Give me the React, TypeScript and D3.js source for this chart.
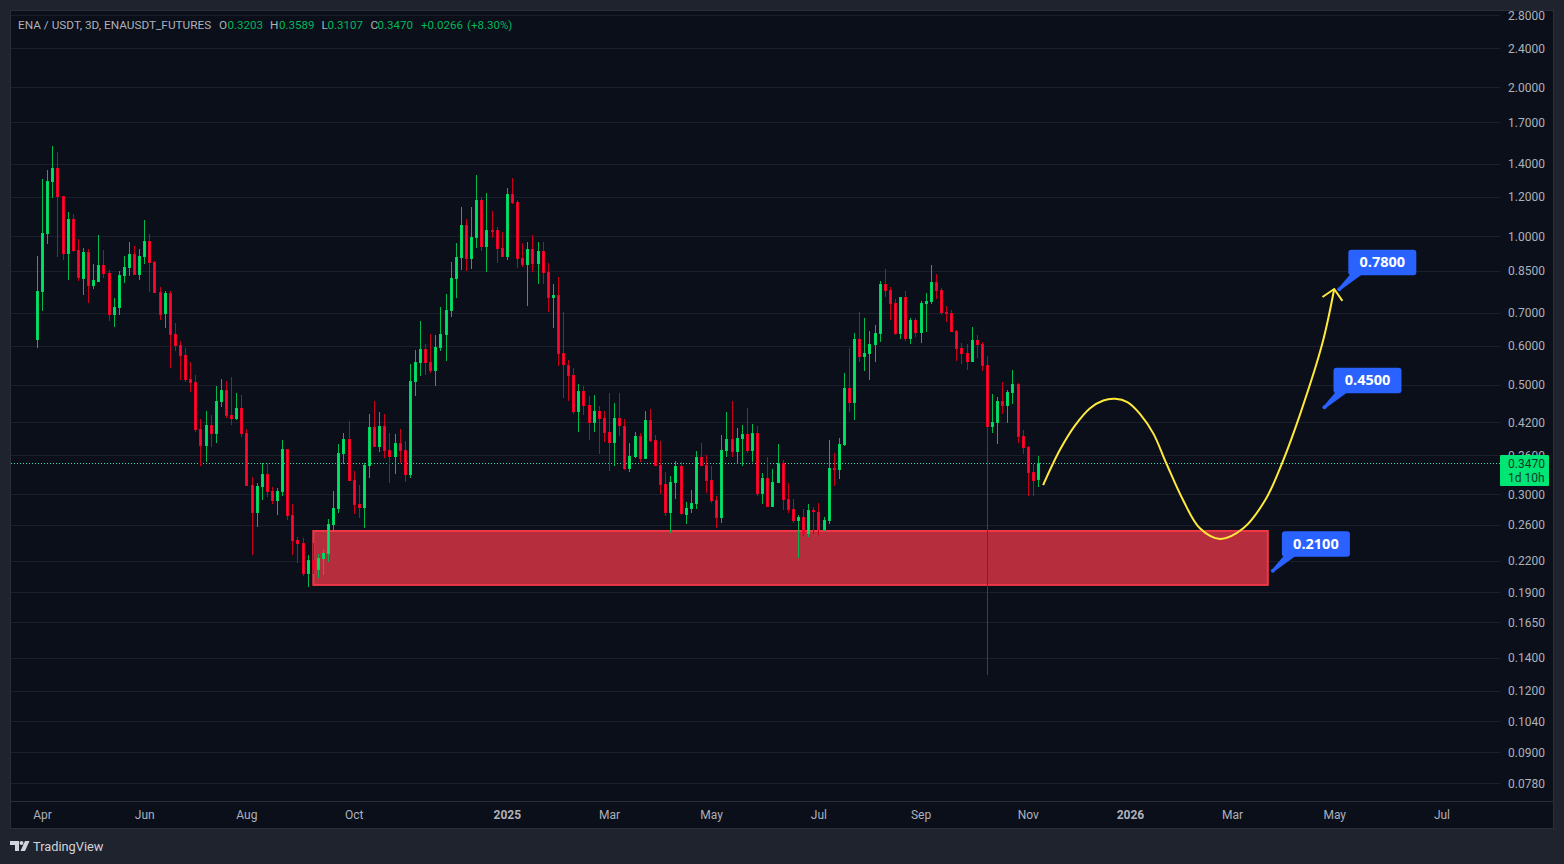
import React, { useEffect, useRef } from 'react';
import * as d3 from 'd3';

// 3D candles, first to last
const opens = [
  .616,.770,1.009,1.286,1.373,1.205,.919,1.082,.937,.818,
  .928,.792,.807,.873,.842,.692,.715,.830,.861,.919,
  .834,.907,.977,.886,.770,.695,.767,.633,.602,.574,
  .513,.506,.407,.376,.414,.398,.461,.488,.434,.426,
  .449,.399,.313,.275,.310,.330,.304,.291,.303,.371,
  .272,.242,.239,.207,.221,.211,.222,.227,.260,.280,
  .362,.388,.321,.287,.282,.342,.410,.374,.412,.369,
  .357,.381,.369,.328,.506,.553,.591,.556,.533,.593,
  .630,.705,.818,.903,1.053,.898,.991,1.183,.950,1.028,
  1.028,.946,.907,1.216,1.172,.903,.873,.941,.878,.932,
  .845,.749,.760,.579,.548,.523,.440,.485,.455,.418,
  .442,.428,.401,.381,.428,.412,.337,.357,.394,.354,
  .424,.386,.344,.315,.275,.316,.342,.272,.280,.287,
  .357,.344,.321,.292,.269,.367,.388,.365,.388,.398,
  .367,.399,.300,.324,.283,.316,.347,.294,.280,.265,
  .270,.249,.279,.276,.254,.265,.339,.336,.378,.493,
  .459,.619,.569,.577,.602,.633,.799,.777,.732,.633,
  .753,.619,.676,.636,.728,.735,.807,.777,.702,.698,
  .642,.593,.579,.556,.616,.605,.548,.410,.418,.463,
  .453,.481,.502,.394,.374,.333,.3203,
];
const highs = [
  .911,1.304,1.36,1.521,1.479,1.205,1.118,1.108,.986,.946,
  .941,.878,1.005,.937,.853,.749,.849,.911,.972,.954,
  .941,1.077,1.009,.890,.788,.774,.774,.666,.613,.593,
  .556,.523,.426,.442,.434,.497,.513,.509,.518,.481,
  .476,.407,.325,.316,.347,.347,.310,.309,.386,.371,
  .287,.246,.245,.226,.239,.227,.231,.267,.304,.379,
  .399,.422,.334,.313,.347,.436,.463,.440,.436,.399,
  .398,.407,.385,.551,.588,.673,.605,.633,.630,.718,
  .763,.886,.968,1.145,1.082,1.145,1.329,1.199,1.222,1.124,
  1.043,1.019,1.251,1.310,1.183,.968,.972,1.005,.972,.972,
  .882,.799,.826,.702,.561,.540,.502,.497,.474,.476,
  .453,.442,.481,.459,.481,.426,.381,.401,.399,.442,
  .446,.396,.385,.333,.327,.350,.349,.289,.306,.367,
  .381,.361,.342,.298,.396,.440,.463,.409,.414,.449,
  .416,.412,.331,.357,.337,.379,.352,.316,.294,.272,
  .280,.287,.283,.288,.270,.386,.364,.390,.528,.593,
  .636,.702,.682,.642,.660,.811,.857,.788,.746,.753,
  .774,.682,.682,.739,.767,.873,.838,.785,.722,.708,
  .645,.607,.605,.654,.630,.610,.572,.479,.472,.506,
  .488,.535,.504,.405,.376,.346,.3589,
];
const lows = [
  .593,.705,.963,1.194,.907,.894,.815,.928,.811,.760,
  .732,.781,.807,.822,.673,.654,.692,.803,.830,.834,
  .815,.878,.770,.767,.676,.651,.540,.585,.511,.506,
  .483,.401,.342,.349,.374,.381,.451,.428,.414,.424,
  .392,.312,.226,.258,.292,.296,.287,.272,.298,.266,
  .226,.218,.205,.195,.207,.203,.206,.219,.252,.275,
  .346,.319,.274,.269,.256,.324,.374,.365,.355,.316,
  .330,.347,.318,.324,.474,.521,.523,.528,.497,.585,
  .558,.685,.749,.853,.849,.857,.946,.932,.845,.991,
  .882,.907,.894,1.161,.861,.865,.722,.845,.799,.799,
  .702,.651,.546,.470,.463,.436,.401,.434,.386,.401,
  .362,.383,.334,.342,.394,.336,.333,.355,.349,.354,
  .383,.342,.300,.271,.250,.294,.272,.261,.275,.280,
  .342,.302,.288,.256,.262,.357,.357,.347,.342,.364,
  .349,.298,.287,.283,.283,.316,.279,.275,.262,.223,
  .247,.246,.249,.248,.253,.261,.312,.322,.376,.440,
  .424,.556,.533,.511,.556,.610,.753,.676,.630,.619,
  .613,.605,.625,.607,.639,.728,.746,.692,.670,.639,
  .558,.551,.535,.556,.566,.533,.129,.399,.379,.436,
  .418,.457,.381,.362,.298,.298,.3107,
];
const closes = [
  .774,1.014,1.292,1.373,1.199,.919,1.082,.932,.822,.928,
  .792,.815,.873,.838,.692,.718,.834,.865,.919,.834,
  .911,.977,.882,.767,.692,.767,.630,.599,.572,.511,
  .504,.405,.376,.414,.398,.463,.488,.432,.426,.449,
  .398,.312,.275,.312,.330,.303,.291,.304,.371,.271,
  .241,.238,.207,.221,.211,.223,.228,.261,.282,.364,
  .388,.319,.285,.282,.344,.410,.374,.412,.367,.357,
  .381,.367,.328,.509,.556,.591,.553,.533,.596,.633,
  .708,.822,.907,1.053,.898,.995,1.183,.950,1.028,1.024,
  .941,.907,1.216,1.166,.898,.873,.941,.878,.932,.842,
  .749,.760,.577,.548,.521,.440,.485,.453,.418,.442,
  .426,.399,.381,.428,.412,.337,.359,.394,.354,.424,
  .385,.342,.313,.275,.318,.342,.274,.282,.288,.357,
  .342,.319,.291,.269,.369,.388,.365,.390,.398,.367,
  .399,.300,.324,.283,.318,.347,.292,.279,.265,.270,
  .249,.279,.276,.254,.266,.339,.337,.379,.493,.459,
  .619,.569,.579,.605,.636,.799,.774,.728,.633,.753,
  .619,.676,.636,.732,.739,.807,.774,.698,.695,.639,
  .591,.577,.556,.616,.602,.546,.410,.420,.463,.453,
  .483,.502,.392,.372,.331,.319,.3470,
];

const priceTicks = [2.8, 2.4, 2.0, 1.7, 1.4, 1.2, 1.0, 0.85, 0.7, 0.6, 0.5, 0.42, 0.36, 0.3, 0.26, 0.22, 0.19, 0.165, 0.14, 0.12, 0.104, 0.09, 0.078];
const timeLabels = ['Apr', 'Jun', 'Aug', 'Oct', '2025', 'Mar', 'May', 'Jul', 'Sep', 'Nov', '2026', 'Mar', 'May', 'Jul'];
const timeBars = [1, 21, 41, 62, 92, 112, 132, 153, 173, 194, 214, 234, 254, 275];

// hand drawn projection, in bars and prices
const pathBars = [196.9, 200.2, 203.2, 206.1, 208.7, 211, 213.4, 215.9, 218.5, 221, 224.3, 227.6, 231.6, 236.1, 240.4, 243.7, 247.3, 251.6, 253.9];
const pathPrices = [.313, .369, .414, .448, .4645, .468, .461, .436, .398, .347, .292, .256, .2436, .256, .292, .347, .438, .607, .781];
const arrowBars = [251.6, 253.9, 255.5];
const arrowPrices = [.7525, .781, .739];

const zoneBars = [54, 240.9];
const zonePrices = [.2528, .1966];

const targetBars = [254.9, 252, 241.9];
const targetPrices = [.78, .45, .21];
const targetLabels = ['0.7800', '0.4500', '0.2100'];

const lastPrice = 0.347;
const legendParts = [
  { x: 18, text: 'ENA / USDT, 3D, ENAUSDT_FUTURES', up: false },
  { x: 219, text: 'O', up: false },
  { x: 227.5, text: '0.3203', up: true },
  { x: 270, text: 'H', up: false },
  { x: 279, text: '0.3589', up: true },
  { x: 321.5, text: 'L', up: false },
  { x: 327.5, text: '0.3107', up: true },
  { x: 370.5, text: 'C', up: false },
  { x: 377.5, text: '0.3470', up: true },
  { x: 421, text: '+0.0266', up: true },
  { x: 467, text: '(+8.30%)', up: true },
];

const FONT = 'Roboto, sans-serif';
const TEXT = '#aeb1ba';

const App = () => {
  const ref = useRef(null);

  useEffect(() => {
    const svg = d3.select(ref.current);
    svg.selectAll('*').remove();

    const x = d3.scaleLinear().domain([0, 196]).range([37.5, 1038.5]);
    const y = d3.scaleLog().domain([1, 0.1]).range([236, 729.9]);

    // page and pane
    svg.append('rect').attr('width', 1564).attr('height', 864).attr('fill', '#1f232e');
    svg.append('rect').attr('x', 10.5).attr('y', 10.5).attr('width', 1543).attr('height', 818)
      .attr('fill', '#0a0f1a').attr('stroke', '#2a2e39');
    svg.append('line').attr('x1', 11).attr('x2', 1553).attr('y1', 801.5).attr('y2', 801.5).attr('stroke', '#2a2e39');

    svg.append('g').selectAll('line').data(priceTicks).enter().append('line')
      .attr('x1', 11).attr('x2', 1500)
      .attr('y1', d => Math.round(y(d)) + 0.5).attr('y2', d => Math.round(y(d)) + 0.5)
      .attr('stroke', '#1a1f2b');

    // red zone
    svg.append('rect')
      .attr('x', x(zoneBars[0])).attr('width', x(zoneBars[1]) - x(zoneBars[0]))
      .attr('y', y(zonePrices[0])).attr('height', y(zonePrices[1]) - y(zonePrices[0]))
      .attr('fill', '#c93241').attr('fill-opacity', 0.9)
      .attr('stroke', '#f23645').attr('stroke-width', 2);

    // last price line
    svg.append('line').attr('x1', 11).attr('x2', 1500)
      .attr('y1', Math.floor(y(lastPrice)) + 0.5).attr('y2', Math.floor(y(lastPrice)) + 0.5)
      .attr('stroke', '#3fe0b0').attr('stroke-dasharray', '1 2');

    // candles
    const candles = opens.map((o, i) => ({ i, o, h: highs[i], l: lows[i], c: closes[i], up: closes[i] >= o }));
    const g = svg.append('g').attr('shape-rendering', 'crispEdges');
    const px = d => Math.floor(x(d.i));
    g.selectAll('.wick').data(candles).enter().append('rect').attr('class', 'wick')
      .attr('x', px).attr('width', 1)
      .attr('y', d => y(d.h)).attr('height', d => y(d.l) - y(d.h))
      .attr('fill', d => (d.up ? '#00b850' : '#c8001c'));
    g.selectAll('.body').data(candles).enter().append('rect').attr('class', 'body')
      .attr('x', d => px(d) - 1).attr('width', 3)
      .attr('y', d => y(Math.max(d.o, d.c)))
      .attr('height', d => Math.max(2, y(Math.min(d.o, d.c)) - y(Math.max(d.o, d.c))))
      .attr('fill', d => (d.up ? '#00d45e' : '#ee0024'));
    g.selectAll('.core').data(candles).enter().append('rect').attr('class', 'core')
      .attr('x', px).attr('width', 1)
      .attr('y', d => y(Math.max(d.o, d.c)) + 1)
      .attr('height', d => Math.max(0, y(Math.min(d.o, d.c)) - y(Math.max(d.o, d.c)) - 2))
      .attr('fill', d => (d.up ? '#00e565' : '#ff0a33'));

    // projected path
    const line = d3.line().x(d => x(d[0])).y(d => y(d[1]));
    svg.append('path')
      .attr('d', line.curve(d3.curveCatmullRom)(d3.zip(pathBars, pathPrices)))
      .attr('fill', 'none').attr('stroke', '#ffe93b').attr('stroke-width', 2);
    svg.append('path')
      .attr('d', line.curve(d3.curveLinear)(d3.zip(arrowBars, arrowPrices)))
      .attr('fill', 'none').attr('stroke', '#ffe93b').attr('stroke-width', 2);

    // targets
    targetLabels.forEach((label, i) => {
      const dx = x(targetBars[i]);
      const dy = y(targetPrices[i]);
      const left = dx + 9;
      const bottom = dy - 14;
      const t = svg.append('g');
      t.append('path')
        .attr('d', `M${left + 2},${bottom - 1}L${left + 14},${bottom - 1}L${dx + 1},${dy + 1}L${dx - 1},${dy - 1}Z`)
        .attr('fill', '#2962ff');
      t.append('circle').attr('cx', dx).attr('cy', dy).attr('r', 2).attr('fill', '#2962ff');
      t.append('rect').attr('x', left).attr('y', bottom - 25.5).attr('width', 68).attr('height', 25.5)
        .attr('rx', 3).attr('fill', '#2962ff');
      t.append('text').attr('x', left + 34).attr('y', bottom - 8).attr('text-anchor', 'middle')
        .style('font-family', '"Open Sans", sans-serif').style('font-size', '14.5px').style('font-weight', 700)
        .attr('fill', '#ffffff').text(label);
    });

    // price axis
    svg.append('g').selectAll('text').data(priceTicks).enter().append('text')
      .attr('x', 1508).attr('y', d => y(d) + 4.5)
      .style('font-family', FONT).style('font-size', '12px')
      .attr('fill', TEXT).text(d => d.toFixed(4));

    svg.append('rect').attr('x', 1500).attr('y', 455).attr('width', 49).attr('height', 31).attr('rx', 1).attr('fill', '#00e676');
    svg.append('text').attr('x', 1508).attr('y', y(lastPrice) + 4.5)
      .style('font-family', FONT).style('font-size', '12px').attr('fill', '#0b3a24').text(lastPrice.toFixed(4));
    svg.append('text').attr('x', 1508).attr('y', y(lastPrice) + 18.5)
      .style('font-family', FONT).style('font-size', '12px').attr('fill', '#0b3a24').text('1d 10h');

    // time axis
    svg.append('g').selectAll('text').data(timeLabels).enter().append('text')
      .attr('x', (d, i) => x(timeBars[i])).attr('y', 819).attr('text-anchor', 'middle')
      .style('font-family', FONT).style('font-size', '12px')
      .style('font-weight', d => (d.length === 4 ? 700 : 400))
      .attr('fill', TEXT).text(d => d);

    // legend
    svg.append('g').selectAll('text').data(legendParts).enter().append('text')
      .attr('x', d => d.x).attr('y', 29)
      .style('font-family', FONT).style('font-size', d => (d.up ? '11.5px' : '11.8px'))
      .attr('fill', d => (d.up ? '#00b85c' : TEXT)).text(d => d.text);

    // logo
    const logo = svg.append('g').attr('fill', '#d1d4dc');
    logo.append('path').attr('d', 'M10,841H19V851H15V845H10Z');
    logo.append('circle').attr('cx', 21.5).attr('cy', 843).attr('r', 2);
    logo.append('path').attr('d', 'M25,841H29.5L25,851H20.5Z');
    svg.append('text').attr('x', 33).attr('y', 851)
      .style('font-family', FONT).style('font-size', '12.8px')
      .attr('fill', '#d1d4dc').text('TradingView');
  }, []);

  return <svg ref={ref} width={1564} height={864} style={{ position: 'absolute', left: 0, top: 0 }} />;
};

export default App;
